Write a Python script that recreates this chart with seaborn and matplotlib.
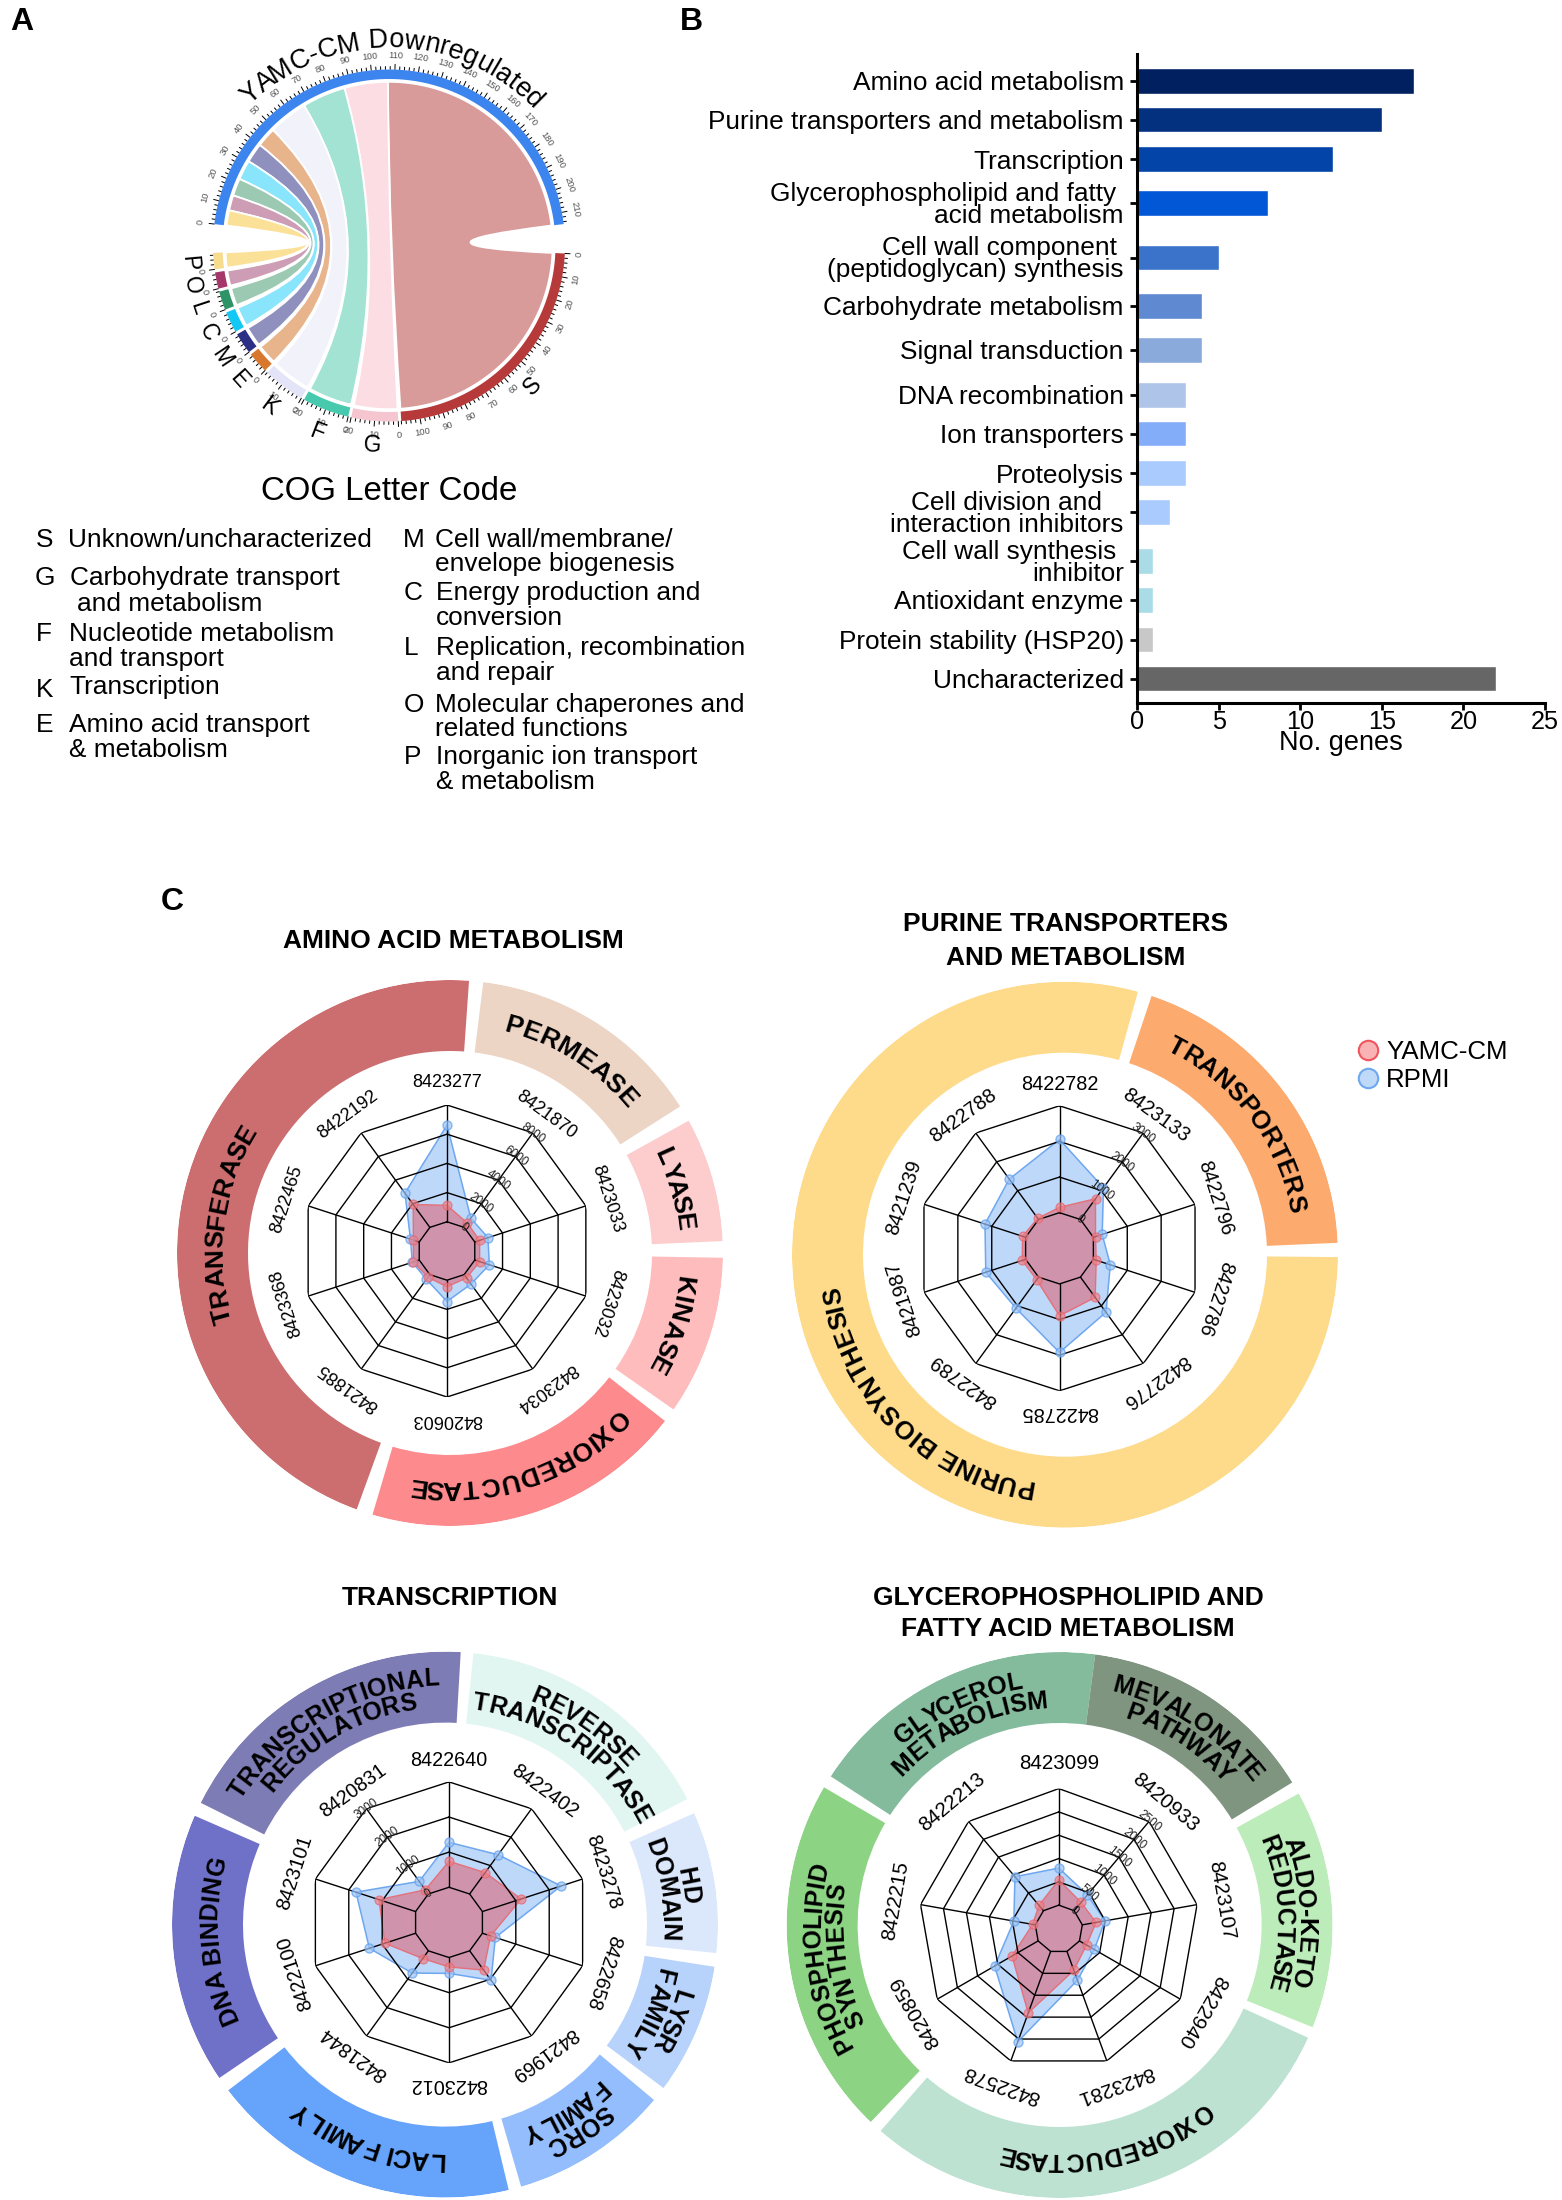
import numpy as np
import matplotlib
matplotlib.use("Agg")
import matplotlib.pyplot as plt
from matplotlib.path import Path
from matplotlib.patches import PathPatch, Polygon
from matplotlib.lines import Line2D
from matplotlib.font_manager import FontProperties
from matplotlib.textpath import text_to_path
import seaborn as sns

# ---------- Panel A data ----------
cog_letters = ["S", "G", "F", "K", "E", "M", "C", "L", "O", "P"]
cog_sizes = [108, 20, 20, 18, 9, 9, 9, 8, 7, 7]
cog_track_colors = ["#b73a3a", "#f6c6d0", "#47c9ae", "#e3e4f7", "#d8772e", "#2b2f85", "#14c8f5", "#2f9368", "#a6376b", "#f7dc8d"]
cog_ribbon_colors = ["#d99a9a", "#fcdde3", "#a2e3d4", "#f1f2fa", "#e8b48c", "#8f90bd", "#88e5fb", "#9cc9b2", "#cc9db5", "#fbe097"]
chord_title = "YAMC-CM Downregulated"
cog_title = "COG Letter Code"

# ---------- Panel B data ----------
gene_classes = ["Amino acid metabolism", "Purine transporters and metabolism", "Transcription",
                "Glycerophospholipid and fatty \nacid metabolism", "Cell wall component \n(peptidoglycan) synthesis",
                "Carbohydrate metabolism", "Signal transduction", "DNA recombination", "Ion transporters",
                "Proteolysis", "Cell division and   \ninteraction inhibitors", "Cell wall synthesis \ninhibitor",
                "Antioxidant enzyme", "Protein stability (HSP20)", "Uncharacterized"]
gene_counts = [17, 15, 12, 8, 5, 4, 4, 3, 3, 3, 2, 1, 1, 1, 22]
bar_colors = ["#012060", "#03307f", "#0244a8", "#0257d6", "#3a73c9", "#5f8ad2", "#8aaadc", "#aec4e8",
              "#84adf9", "#a9cbfd", "#a9cbfd", "#aadce8", "#aadce8", "#c8c8c8", "#666666"]

# ---------- Panel C data ----------
amino_genes = ["8423277", "8421870", "8423033", "8423032", "8423034", "8420603", "8421885", "8423368", "8422465", "8422192"]
amino_rpmi = [6620, 780, 950, 1050, 800, 1460, 400, 500, 630, 2900]
amino_yamc = [1130, 370, 350, 350, 280, 450, 220, 420, 420, 1940]
amino_ticks = [0, 2000, 4000, 6000, 8000]
amino_groups = ["TRANSFERASE", "PERMEASE", "LYASE", "KINASE", "OXIOREDUCTASE"]
amino_spans = [(200, 364), (7, 57.5), (61, 87.5), (91, 125), (128, 196.5)]
amino_label_at = [277.6, 32.2, 74.2, 108, 161.5]
amino_colors = ["#cc6d6f", "#edd5c5", "#fdcccd", "#febcbc", "#fd8b8d"]

purine_genes = ["8422782", "8423133", "8422796", "8422786", "8422776", "8422785", "8422789", "8421987", "8421239", "8422788"]
purine_rpmi = [2056, 1100, 260, 500, 1220, 1924, 1080, 1176, 1200, 1400]
purine_yamc = [150, 720, 64, 84, 704, 896, 92, 100, 90, 40]
purine_ticks = [0, 1000, 2000, 3000]
purine_groups = ["TRANSPORTERS", "PURINE BIOSYNTHESIS"]
purine_spans = [(18.5, 87.5), (90.5, 375.5)]
purine_label_at = [53, 225]
purine_colors = ["#fdaa6e", "#fddb8a"]

trans_genes = ["8422640", "8422402", "8423278", "8422658", "8421969", "8423012", "8421844", "8422100", "8423101", "8420831"]
trans_rpmi = [1280, 1380, 2356, 388, 1036, 452, 784, 1384, 1784, 444]
trans_yamc = [740, 752, 1160, 244, 680, 268, 272, 920, 1096, 148]
trans_ticks = [0, 1000, 2000, 3000]
trans_groups = ["TRANSCRIPTIONAL\nREGULATORS", "REVERSE\nTRANSCRIPTASE", "HD\nDOMAIN", "LYSR\nFAMILY", "SORC\nFAMILY", "LACI FAMILY", "DNA BINDING"]
trans_spans = [(296.5, 363.3), (6, 62.6), (65.9, 96), (98.9, 126.8), (130, 163.8), (166.5, 232.6), (235.8, 293.5)]
trans_label_at = [330, 35, 81, 113, 147, 199.5, 266]
trans_colors = ["#7e7cb4", "#e2f6f1", "#dbe8fc", "#b8d3fb", "#93bdfc", "#66a3fb", "#6f70c8"]

glyc_genes = ["8423099", "8420933", "8423107", "8422940", "8423281", "8422578", "8420859", "8422215", "8422213"]
glyc_rpmi = [795, 443, 494, 367, 657, 2063, 1078, 467, 952]
glyc_yamc = [542, 232, 300, 175, 430, 1406, 648, 57, 150]
glyc_ticks = [0, 500, 1000, 1500, 2000, 2500]
glyc_groups = ["GLYCEROL\nMETABOLISM", "MEVALONATE\nPATHWAY", "ALDO-KETO\nREDUCTASE", "OXIOREDUCTASE", "PHOSPHOLIPID\nSYNTHESIS"]
glyc_spans = [(303, 367.5), (367.5, 418.5), (61.2, 112), (114.4, 221), (223.8, 300.3)]
glyc_label_at = [335, 393, 87, 168, 262]
glyc_colors = ["#84bb9d", "#7f9580", "#bcecb9", "#bde2d2", "#8cd384"]

W, H = 1562, 2200
sns.set_theme(style="white")
FONT = ["Liberation Sans", "DejaVu Sans"]
plt.rcParams["font.family"] = FONT
plt.rcParams["text.color"] = "black"
plt.rcParams["axes.labelcolor"] = "black"
plt.rcParams["xtick.color"] = "black"
plt.rcParams["ytick.color"] = "black"
fig = plt.figure(figsize=(W / 100, H / 100), dpi=100, facecolor="white")


def ftext(x, y, s, **kw):
    kw.setdefault("va", "center")
    kw.setdefault("ha", "left")
    return fig.text(x / W, 1 - y / H, s, **kw)


def box(cx, cy, r, **kw):
    return fig.add_axes([(cx - r) / W, 1 - (cy + r) / H, 2 * r / W, 2 * r / H], **kw)


def char_centers(s, size_pt, weight="normal"):
    """Centres along the line of each character, in pixels, with 0 at the middle of the string."""
    fp = FontProperties(family=FONT, size=size_pt, weight=weight)
    scale = 100 / 72
    def wid(t):
        return text_to_path.get_text_width_height_descent(t, fp, False)[0] * scale if t else 0.0
    total = wid(s)
    return [wid(s[:i]) + wid(s[i]) / 2 - total / 2 for i in range(len(s))]


for letter, x, y in [("A", 22, 22), ("B", 691, 22), ("C", 172, 902)]:
    ftext(x, y, letter, fontsize=23, fontweight="bold", ha="center")

# ---------- Panel A: chord diagram ----------
CR = 176.0
LIM = 1.4
axA = box(389, 245.5, CR * LIM)
axA.set_xlim(-LIM, LIM)
axA.set_ylim(-LIM, LIM)
axA.set_axis_off()
total = sum(cog_sizes)
unit = 166.0 / total
TOP0, BOT0, SGAP = 173.0, -2.6, 1.0


def pol(deg, r):
    t = np.deg2rad(deg)
    return np.array([r * np.cos(t), r * np.sin(t)])


def track(a0, a1, color, r0=0.946, r1=1.0):
    t = np.linspace(a0, a1, 80)
    pts = np.vstack([pol(t, r1).T, pol(t[::-1], r0).T])
    axA.add_patch(Polygon(pts, closed=True, fc=color, ec="none", zorder=3))


def ticks(a0, per_unit, count, top):
    for v in range(0, count + 1, 2):
        a = a0 + v * per_unit
        major = v % 10 == 0
        p0, p1 = pol(a, 1.0), pol(a, 1.03 if major else 1.017)
        axA.plot([p0[0], p1[0]], [p0[1], p1[1]], color="black", lw=0.7, zorder=2)
        if major:
            p = pol(a, 1.08)
            axA.text(p[0], p[1], str(v), fontsize=6.8, color="#555555", ha="center", va="center",
                     rotation=(a - 90) if top else (a + 90), rotation_mode="anchor")


track(TOP0, TOP0 - total * unit, "#3d85ee")
ticks(TOP0, -unit, total, True)

bot = BOT0
top_right = TOP0 - total * unit
RIB = 0.93
for i, (letter, size) in enumerate(zip(cog_letters, cog_sizes)):
    b0, b1 = bot, bot - size * unit
    t1 = top_right
    t0 = top_right + size * unit
    track(b0, b1, cog_track_colors[i])
    ticks(b0, -unit, size, False)
    # ribbon
    top_arc = pol(np.linspace(t0, t1, 40), RIB).T
    bot_arc = pol(np.linspace(b0, b1, 40), RIB).T
    verts = list(top_arc) + [(0, 0), bot_arc[0]] + list(bot_arc[1:]) + [(0, 0), top_arc[0]]
    codes = [Path.MOVETO] + [Path.LINETO] * 39 + [Path.CURVE3, Path.CURVE3] + [Path.LINETO] * 39 + [Path.CURVE3, Path.CURVE3]
    axA.add_patch(PathPatch(Path(verts, codes), fc=cog_ribbon_colors[i], ec="white", lw=1.3, zorder=1))
    mid = (b0 + b1) / 2
    p = pol(mid, 1.14)
    axA.text(p[0], p[1], letter, fontsize=16.5, ha="center", va="center", rotation=mid + 90, rotation_mode="anchor")
    bot = b1 - SGAP
    top_right = t0

TITLE_SIZE = 19.5
for ch, s in zip(chord_title, char_centers(chord_title, TITLE_SIZE)):
    a = 89 - np.rad2deg(s / (1.125 * CR))
    p = pol(a, 1.125)
    axA.text(p[0], p[1], ch, fontsize=TITLE_SIZE, ha="center", va="baseline", rotation=a - 90, rotation_mode="anchor")

ftext(389, 491, cog_title, fontsize=23.8, ha="center")
cog_text = [
    ("S", 36, 540, 68, ["Unknown/uncharacterized"], [540]),
    ("G", 35, 578, 70, ["Carbohydrate transport"], [578]),
    ("", 0, 0, 77, ["and metabolism"], [604]),
    ("F", 36, 634, 69, ["Nucleotide metabolism", "and transport"], [634, 659]),
    ("K", 36, 690, 69, ["Transcription"], [687]),
    ("E", 36, 725, 69, ["Amino acid transport", "& metabolism"], [725, 750]),
    ("M", 403, 540, 435, ["Cell wall/membrane/", "envelope biogenesis"], [540, 564]),
    ("C", 404, 593, 436, ["Energy production and", "conversion"], [593, 618]),
    ("L", 404, 648, 436, ["Replication, recombination", "and repair"], [648, 673]),
    ("O", 404, 705, 435, ["Molecular chaperones and", "related functions"], [705, 729]),
    ("P", 404, 757, 436, ["Inorganic ion transport", "& metabolism"], [757, 782]),
]
for letter, lx, ly, tx, lines, ys in cog_text:
    if letter:
        ftext(lx, ly, letter, fontsize=18.9)
    for ln, yy in zip(lines, ys):
        ftext(tx, yy, ln, fontsize=18.9)

# ---------- Panel B: bars ----------
bar_rows = [81, 119.5, 159, 203, 257.5, 306, 350, 395, 433.5, 473, 512, 561, 600, 639.5, 678.5]
AX_L, AX_R, AX_T, AX_B = 1137, 1545, 54, 703
axB = fig.add_axes([AX_L / W, 1 - AX_B / H, (AX_R - AX_L) / W, (AX_B - AX_T) / H])
sns.barplot(x=gene_counts, y=bar_rows, hue=gene_classes, palette=bar_colors, orient="h", native_scale=True,
            dodge=False, width=0.675, saturation=1, legend=False, ax=axB)
axB.set_xlim(0, 25)
axB.set_ylim(AX_B, AX_T)
axB.set_yticks(bar_rows, gene_classes, fontsize=18.9, linespacing=0.92)
axB.set_xticks([0, 5, 10, 15, 20, 25])
axB.tick_params(axis="x", labelsize=18.2, length=5, width=2, pad=0, bottom=True)
axB.tick_params(axis="y", length=5, width=2, pad=4.5, left=True)
axB.set_xlabel("No. genes", fontsize=19.5, labelpad=-3)
axB.set_ylabel("")
sns.despine(ax=axB)
for side in ("left", "bottom"):
    axB.spines[side].set_linewidth(2.2)
    axB.spines[side].set_color("black")


# ---------- Panel C: radars ----------
def curved(ax, label, center, size, r_mid=237.0, line_gap=22.0):
    lines = label.split("\n")
    n = len(lines)
    for j, ln in enumerate(lines):
        base = r_mid - 9 + (n - 1 - 2 * j) * line_gap / 2
        for ch, s in zip(ln, char_centers(ln, size, "bold")):
            ang = center + np.rad2deg(s / base)
            ax.text(np.deg2rad(ang), base, ch, fontsize=size, fontweight="bold", ha="center", va="baseline",
                    rotation=-ang, rotation_mode="anchor", zorder=5)


def ring(cx, cy, groups, spans, centers, colors, size):
    ax = box(cx, cy, 273, projection="polar")
    ax.set_theta_zero_location("N")
    ax.set_theta_direction(-1)
    ax.set_rlim(0, 273)
    ax.set_axis_off()
    for g, sp, mid, c in zip(groups, spans, centers, colors):
        a0, a1 = np.deg2rad(sp[0]), np.deg2rad(sp[1])
        ax.bar((a0 + a1) / 2, 273 - 202, width=a1 - a0, bottom=202, color=c, linewidth=0, align="center")
        curved(ax, g, mid, size)
    ax.set_rlim(0, 273)
    return ax


def radar(cx, cy, R, genes, rpmi, yamc, tick_vals, ring0, spoke, label_r, label_size):
    ax = box(cx, cy, R, projection="polar")
    ax.set_theta_zero_location("N")
    ax.set_theta_direction(-1)
    n = len(genes)
    th = np.linspace(0, 2 * np.pi, n, endpoint=False)
    vmax = tick_vals[-1]
    origin = -ring0 / (1 - ring0) * vmax
    closed = np.r_[th, th[0]]
    ax.fill(closed, np.r_[rpmi, rpmi[0]], facecolor="#7fb2f5", alpha=0.5, edgecolor="none", zorder=2)
    ax.plot(closed, np.r_[rpmi, rpmi[0]], color="#6ea7ef", lw=1.1, zorder=2.1)
    ax.fill(closed, np.r_[yamc, yamc[0]], facecolor="#e0505f", alpha=0.5, edgecolor="none", zorder=3)
    ax.plot(closed, np.r_[yamc, yamc[0]], color="#e6707a", lw=1.0, zorder=3.1)
    for v in tick_vals:
        ax.plot(closed, [v] * (n + 1), color="black", lw=1.0, zorder=4)
    for t in th:
        ax.plot([t, t], [0, vmax], color="black", lw=1.0, zorder=4)
    sns.scatterplot(x=th, y=rpmi, s=42, color="#9cc4f8", edgecolor="#5f9fee", linewidth=1.0, alpha=0.7, legend=False, ax=ax, zorder=4.2)
    sns.scatterplot(x=th, y=yamc, s=42, color="#ef7f86", edgecolor="#e8606a", linewidth=0.8, alpha=0.7, legend=False, ax=ax, zorder=4.3)
    ax.set_rlim(origin, vmax)
    ax.set_axis_off()
    for t, g in zip(th, genes):
        d = np.rad2deg(t)
        ax.text(t, origin + label_r * (vmax - origin), g, fontsize=label_size, ha="center", va="center",
                rotation=-d, rotation_mode="anchor", zorder=6)
    t = th[spoke]
    for v in tick_vals:
        ax.text(t, v, str(v), fontsize=8.5, ha="center", va="center", rotation=-np.rad2deg(t),
                rotation_mode="anchor", zorder=6, color="#222222")
    return ax


ring(450, 1253, amino_groups, amino_spans, amino_label_at, amino_colors, 19)
radar(447, 1251, 146, amino_genes, amino_rpmi, amino_yamc, amino_ticks, 0.2, 1, 1.155, 13)
ftext(453, 941, "AMINO ACID METABOLISM", fontsize=19, fontweight="bold", ha="center")

ring(1065, 1254.7, purine_groups, purine_spans, purine_label_at, purine_colors, 18.5)
radar(1059.5, 1248.3, 142.5, purine_genes, purine_rpmi, purine_yamc, purine_ticks, 0.25, 1, 1.15, 14.3)
ftext(1066, 924, "PURINE TRANSPORTERS", fontsize=19, fontweight="bold", ha="center")
ftext(1066, 958, "AND METABOLISM", fontsize=19, fontweight="bold", ha="center")

ring(445, 1924.6, trans_groups, trans_spans, trans_label_at, trans_colors, 18)
radar(449, 1922.4, 140.5, trans_genes, trans_rpmi, trans_yamc, trans_ticks, 0.25, 9, 1.155, 14.2)
ftext(450, 1598, "TRANSCRIPTION", fontsize=19, fontweight="bold", ha="center")

ring(1059.6, 1925, glyc_groups, glyc_spans, glyc_label_at, glyc_colors, 18)
radar(1058.8, 1929, 140.4, glyc_genes, glyc_rpmi, glyc_yamc, glyc_ticks, 0.17, 1, 1.18, 14.8)
ftext(1068, 1598, "GLYCEROPHOSPHOLIPID AND", fontsize=19, fontweight="bold", ha="center")
ftext(1068, 1629, "FATTY ACID METABOLISM", fontsize=19, fontweight="bold", ha="center")

handles = [Line2D([], [], ls="none", marker="o", ms=14, mfc="#f9b3b5", mec="#f0545c", mew=1.5),
           Line2D([], [], ls="none", marker="o", ms=14, mfc="#bfd9f9", mec="#6ea8ee", mew=1.5)]
fig.legend(handles, ["YAMC-CM", "RPMI"], loc="center left", bbox_to_anchor=(1355 / W, 1 - 1066 / H), frameon=False,
           fontsize=18.6, handlelength=1.0, handletextpad=0.2, labelspacing=0.12, borderpad=0, borderaxespad=0)

fig.savefig("out.png", dpi=100, facecolor="white")
